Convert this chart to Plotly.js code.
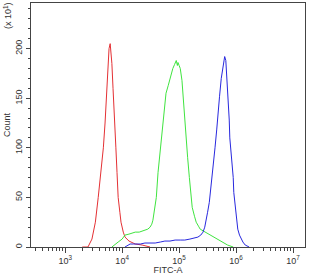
<!DOCTYPE html>
<html>
<head>
<meta charset="utf-8">
<script src="https://cdn.plot.ly/plotly-3.0.1.min.js"></script>
<style>html,body{margin:0;padding:0;background:#fff;}#chart{width:311px;height:275px;}</style>
</head>
<body>
<div id="chart"></div>
<script>
// Histogram outlines: x given as log10(FITC-A), y in units of 10 counts
const redLogX   = [3.30,3.40,3.47,3.53,3.58,3.63,3.67,3.70,3.72,3.75,3.77,3.79,3.80,3.82,3.84,3.86,3.89,3.91,3.93,3.96,3.98,4.02,4.05,4.12,4.23,4.35,4.49];
const redCount  = [0,0,8,25,50,75,100,125,150,190,200,205,200,185,160,130,100,75,50,35,25,15,10,6,3,2,0];

const greenLogX  = [3.82,3.88,3.93,4.00,4.05,4.12,4.18,4.23,4.30,4.35,4.40,4.45,4.49,4.52,4.54,4.57,4.60,4.63,4.67,4.70,4.72,4.75,4.77,4.81,4.84,4.87,4.89,4.92,4.95,4.97,4.98,5.00,5.02,5.05,5.07,5.10,5.12,5.15,5.18,5.21,5.23,5.27,5.30,5.34,5.37,5.43,5.49,5.56,5.63,5.69,5.75,5.85,5.95];
const greenCount = [0,3,5,8,12,13,14,15,15,16,17,18,20,23,27,38,50,75,100,118,130,145,155,163,170,176,180,184,188,183,186,183,180,168,150,130,110,90,70,52,40,31,25,21,18,16,14,12,9,7,5,2,0];

const blueLogX  = [4.05,4.10,4.14,4.20,4.26,4.32,4.40,4.49,4.58,4.67,4.75,4.84,4.93,5.02,5.10,5.19,5.26,5.33,5.38,5.42,5.45,5.47,5.50,5.53,5.56,5.58,5.61,5.63,5.66,5.68,5.71,5.74,5.77,5.79,5.80,5.82,5.84,5.86,5.88,5.89,5.91,5.93,5.95,5.96,5.98,6.00,6.02,6.03,6.06,6.09,6.12,6.16,6.20,6.23];
const blueCount = [0,2,3,3,3,3,4,4,4,5,6,6,7,7,7,8,9,10,12,15,20,25,35,45,60,75,90,100,118,135,152,170,183,190,192,188,170,150,128,110,97,85,70,55,45,35,25,18,12,8,5,2,1,0];

const xTickVals = [1e3,1e4,1e5,1e6,1e7];
const xTickText = ['10<sup>3</sup>','10<sup>4</sup>','10<sup>5</sup>','10<sup>6</sup>','10<sup>7</sup>'];
const xMinorVals = [];
[100,1000,10000,100000,1000000,10000000].forEach(d=>{for(let k=2;k<=9;k++){xMinorVals.push(d*k);}});
const yTickVals = [0,50,100,150,200];
const yTickText = ['0','50','100','150','200'];

const toLin = a => a.map(v => Math.pow(10, v));
const mk = (lx, y, c) => ({x: toLin(lx), y: y, type: 'scatter', mode: 'lines', line: {color: c, width: 1}, hoverinfo: 'skip'});

const data = [
  mk(redLogX, redCount, 'rgb(228,48,52)'),
  mk(greenLogX, greenCount, 'rgb(64,228,64)'),
  mk(blueLogX, blueCount, 'rgb(40,40,222)')
];

const fnt = {family: 'Liberation Sans, Arial, sans-serif', size: 9, color: '#333'};
const layout = {
  width: 311, height: 275,
  margin: {l: 31, r: 6, t: 3, b: 28},
  paper_bgcolor: '#fff', plot_bgcolor: '#fff',
  showlegend: false,
  font: fnt,
  xaxis: {
    type: 'log', range: [2.4, 7.21], showgrid: false, zeroline: false,
    showline: true, linecolor: '#444', linewidth: 1, mirror: true,
    tickmode: 'array', tickvals: xTickVals, ticktext: xTickText,
    ticks: 'outside', ticklen: 5, tickcolor: '#444', tickfont: fnt,
    minor: {tickmode: 'array', tickvals: xMinorVals, ticks: 'outside', ticklen: 3, tickcolor: '#444', showgrid: false},
    title: {text: 'FITC-A', font: fnt, standoff: 2}
  },
  yaxis: {
    range: [0, 246], showgrid: false, zeroline: false,
    showline: true, linecolor: '#444', linewidth: 1, mirror: true,
    tickmode: 'array', tickvals: yTickVals, ticktext: yTickText, tickangle: -90,
    ticks: 'outside', ticklen: 4, tickcolor: '#444', tickfont: fnt,
    minor: {dtick: 10, ticks: 'outside', ticklen: 2, tickcolor: '#444', showgrid: false},
    title: {text: 'Count', font: fnt, standoff: 2}
  },
  annotations: [{
    text: '(x 10<sup>1</sup>)', xref: 'paper', yref: 'paper', x: -0.085, y: 0.95,
    xanchor: 'center', yanchor: 'middle', textangle: -90, showarrow: false, font: fnt
  }]
};

Plotly.newPlot('chart', data, layout, {staticPlot: true, displayModeBar: false});
</script>
</body>
</html>
